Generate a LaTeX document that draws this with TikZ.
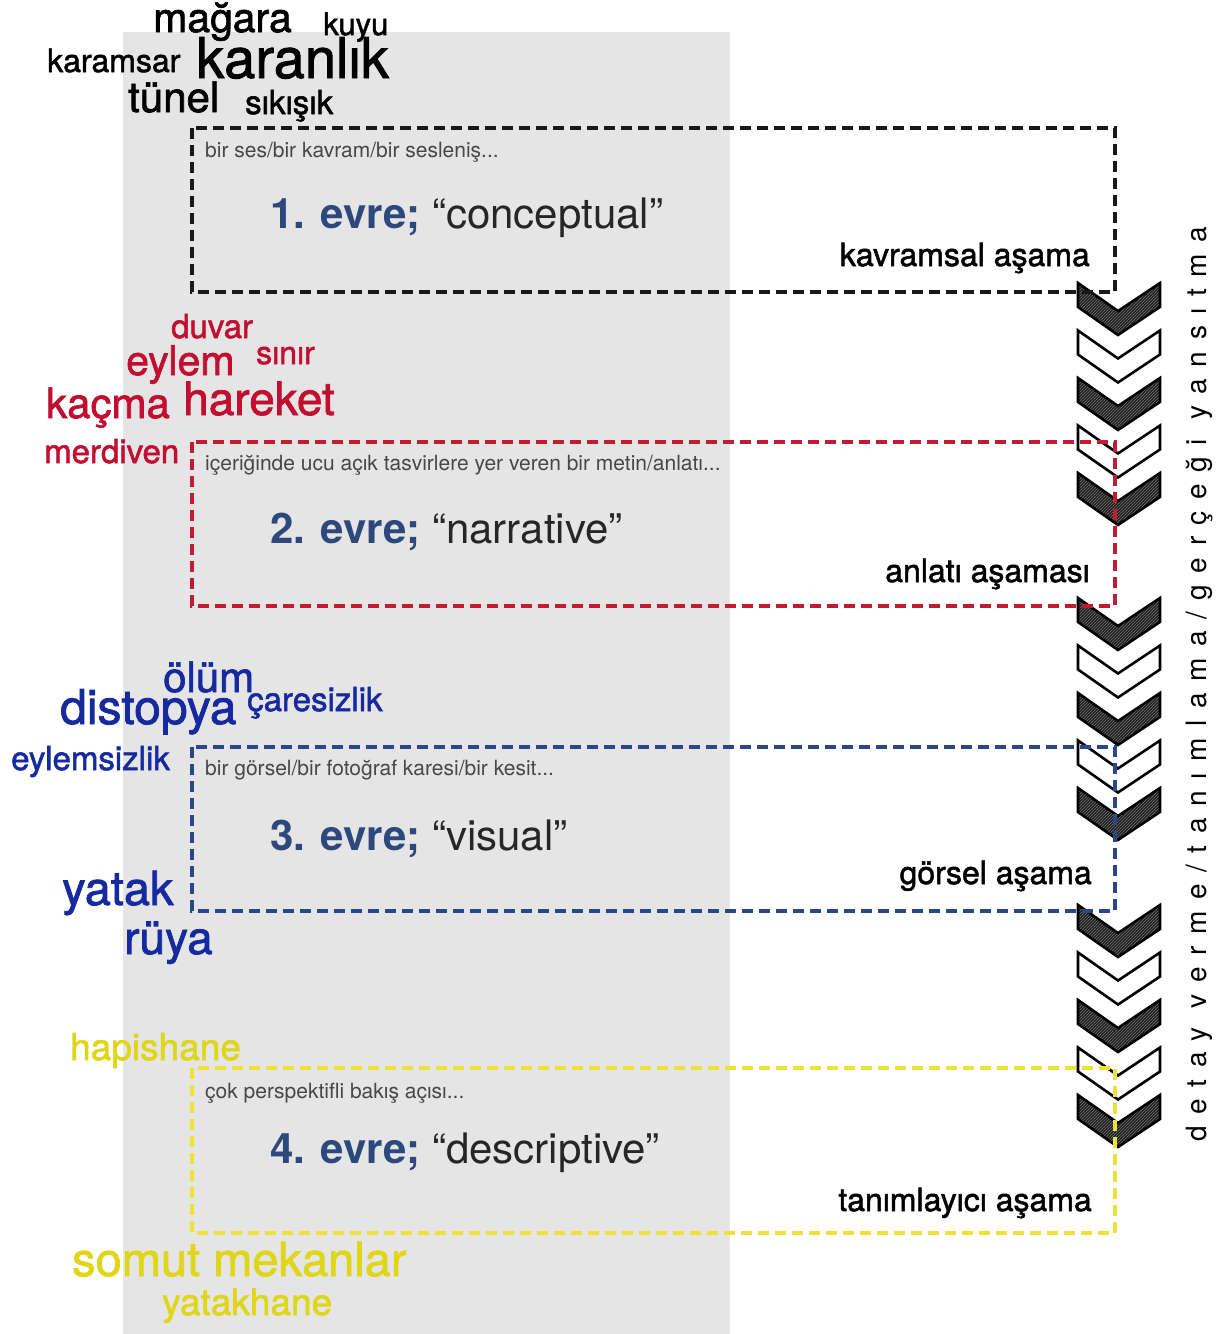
\documentclass[tikz,border=0pt]{standalone}
\usepackage{fontspec}
\setmainfont{TeX Gyre Heros}
\newfontfamily\mfont[FakeBold=1.6]{TeX Gyre Heros}
\newfontfamily\vfont[LetterSpace=41.5]{TeX Gyre Heros}
\usetikzlibrary{patterns}
\definecolor{wred}{RGB}{194,14,48}
\definecolor{wblue}{RGB}{22,42,160}
\definecolor{wyel}{RGB}{224,214,24}
\definecolor{tblue}{RGB}{45,72,125}
\definecolor{bgray}{RGB}{229,229,229}
\definecolor{dred}{RGB}{192,28,52}
\definecolor{dblue}{RGB}{42,72,135}
\definecolor{dyel}{RGB}{238,226,52}
\newcommand\fsz[1]{\fontsize{#1}{#1}\selectfont}
\begin{document}
\begin{tikzpicture}[x=1pt,y=-1pt,
  word/.style={inner sep=0pt, anchor=base west},
  wordr/.style={inner sep=0pt, anchor=base east, font=\mfont\fsz{32}},
  small/.style={word, font=\fsz{21}, text=black!72},
  title/.style={word, font=\fsz{42}, text=black!85},
  dbox/.style={dash pattern=on 11pt off 6pt, line width=3.1pt},
  chev/.style={draw=black, line width=2.6pt, line join=miter, fill=white},
  chevfull/.style={draw=black, line width=2.6pt, line join=miter,
     preaction={fill=black!88}, pattern=north east lines, pattern color=black!55}]
\useasboundingbox (0,0) rectangle (1228,1334);
\fill[bgray] (123,32) rectangle (730,1334);

% chevrons
\foreach \g in {283,598,905}{
  \foreach \i in {0,...,4}{
    \pgfmathsetmacro\yy{\g+47.5*\i}
    \ifodd\i
      \path[chev] (1078,\yy) -- (1118,\yy+28) -- (1160,\yy) -- (1160,\yy+24) -- (1118,\yy+52) -- (1078,\yy+24) -- cycle;
    \else
      \path[chevfull] (1078,\yy) -- (1118,\yy+28) -- (1160,\yy) -- (1160,\yy+24) -- (1118,\yy+52) -- (1078,\yy+24) -- cycle;
    \fi
  }
}

% dashed boxes
\draw[dbox, draw=black!90] (192,128) rectangle (1115,292);
\draw[dbox, draw=dred] (192,442) rectangle (1115,606);
\draw[dbox, draw=dblue] (192,747) rectangle (1115,911);
\draw[dbox, draw=dyel] (192,1068) rectangle (1115,1233);

% box texts
\node[small] (s1) at (205,157) {bir ses/bir kavram/bir sesleniş...};
\node[title] (t1) at (270,228) {\textcolor{tblue}{\textbf{1. evre;}} “conceptual”};
\node[wordr] (a1) at (1090,266) {kavramsal aşama};

\node[small] (s2) at (205,470) {içeriğinde ucu açık tasvirlere yer veren bir metin/anlatı...};
\node[title] (t2) at (270,543) {\textcolor{tblue}{\textbf{2. evre;}} “narrative”};
\node[wordr] (a2) at (1090,582) {anlatı aşaması};

\node[small] (s3) at (205,775) {bir görsel/bir fotoğraf karesi/bir kesit...};
\node[title] (t3) at (270,850) {\textcolor{tblue}{\textbf{3. evre;}} “visual”};
\node[wordr] (a3) at (1092,884) {görsel aşama};

\node[small] (s4) at (205,1098) {çok perspektifli bakış açısı...};
\node[title] (t4) at (270,1163) {\textcolor{tblue}{\textbf{4. evre;}} “descriptive”};
\node[wordr] (a4) at (1092,1211) {tanımlayıcı aşama};

% black words
\begin{scope}[every node/.append style={text=black}]
\node[word, font=\mfont\fsz{41}] (w1) at (153,32) {mağara};
\node[word, font=\mfont\fsz{31}] (w2) at (323,35) {kuyu};
\node[word, font=\mfont\fsz{32}] (w3) at (47,72) {karamsar};
\node[word, font=\mfont\fsz{56}] (w4) at (196,78) {karanlık};
\node[word, font=\mfont\fsz{42}] (w5) at (128,112) {tünel};
\node[word, font=\mfont\fsz{33}] (w6) at (245,114) {sıkışık};
\end{scope}

% red words
\begin{scope}[every node/.append style={text=wred}]
\node[word, font=\mfont\fsz{33}] (r1) at (171,338) {duvar};
\node[word, font=\mfont\fsz{41}] (r2) at (126,375) {eylem};
\node[word, font=\mfont\fsz{32}] (r3) at (256,364) {sınır};
\node[word, font=\mfont\fsz{42}] (r4) at (46,418) {kaçma};
\node[word, font=\mfont\fsz{46}] (r5) at (183,415) {hareket};
\node[word, font=\mfont\fsz{33}] (r6) at (44,463) {merdiven};
\end{scope}

% blue words
\begin{scope}[every node/.append style={text=wblue}]
\node[word, font=\mfont\fsz{42}] (u1) at (163,692) {ölüm};
\node[word, font=\mfont\fsz{48}] (u2) at (60,724) {distopya};
\node[word, font=\mfont\fsz{33}] (u3) at (247,711) {çaresizlik};
\node[word, font=\mfont\fsz{33}] (u4) at (11,770) {eylemsizlik};
\node[word, font=\mfont\fsz{47}] (u5) at (62,905) {yatak};
\node[word, font=\mfont\fsz{46}] (u6) at (124,954) {rüya};
\end{scope}

% yellow words
\begin{scope}[every node/.append style={text=wyel}]
\node[word, font=\mfont\fsz{37}] (y1) at (70,1060) {hapishane};
\node[word, font=\mfont\fsz{47}] (y2) at (72,1276) {somut mekanlar};
\node[word, font=\mfont\fsz{37}] (y3) at (162,1315) {yatakhane};
\end{scope}

% vertical text
\node[rotate=90, inner sep=0pt, font=\vfont\fsz{28}] (vt) at (1200,684) {detay verme/tanımlama/gerçeği yansıtma};
\end{tikzpicture}
\end{document}
